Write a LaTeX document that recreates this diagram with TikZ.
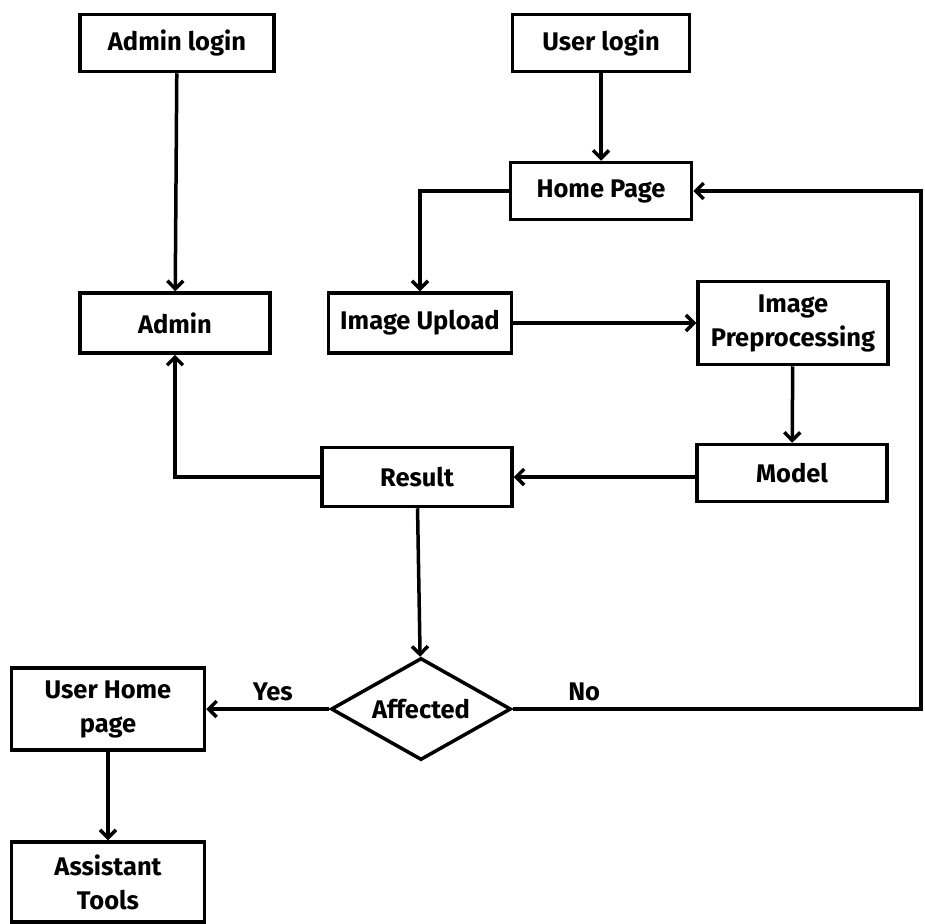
\documentclass[tikz,border=0pt]{standalone}
\usepackage{fontspec}
\setmainfont{Fira Sans}
\usetikzlibrary{shapes.geometric,arrows.meta}
\begin{document}
\begin{tikzpicture}[x=1pt,y=-1pt,
  every node/.style={font=\fontsize{25.5}{34}\selectfont\bfseries},
  box/.style={draw=black,line width=3.5pt,fill=white,align=center,inner sep=0pt},
  decision/.style={draw=black,line width=3.5pt,diamond,aspect=1.8,inner sep=0pt,minimum width=180pt,minimum height=102pt},
  flow/.style={line width=3.5pt,-{Straight Barb[length=8pt,width=16pt,line width=3.5pt]}},
  lbl/.style={font=\fontsize{25.5}{34}\selectfont\bfseries}]
\useasboundingbox (0,0) rectangle (924,924);
% upper row
\node[box,minimum width=194pt,minimum height=57pt] (adminlogin) at (177,43) {Admin login};
\node[box,minimum width=177pt,minimum height=57pt] (userlogin) at (601,43) {User login};
\node[box,minimum width=181pt,minimum height=57pt] (home) at (601,191) {Home Page};
% middle row
\node[box,minimum width=190pt,minimum height=60pt] (admin) at (175,323) {Admin};
\node[box,minimum width=183pt,minimum height=60pt] (upload) at (420,323) {Image Upload};
\node[box,minimum width=190pt,minimum height=83pt] (prep) at (793,323) {Image\\Preprocessing};
\node[box,minimum width=190pt,minimum height=57pt] (model) at (792,473) {Model};
\node[box,minimum width=190pt,minimum height=59pt] (result) at (417,477) {Result};
% decision and user branch
\node[decision] (affected) at (421,709) {Affected};
\node[box,minimum width=193pt,minimum height=82pt] (userhome) at (108,709) {User Home\\page};
\node[box,minimum width=193pt,minimum height=80pt] (tools) at (108,882) {Assistant\\Tools};
\coordinate (rightturn) at (921,709);
% connectors
\draw[flow] (adminlogin) -- (admin);
\draw[flow] (userlogin) -- (home);
\draw[flow] (home.west) -| (upload.north);
\draw[flow] (upload) -- (prep);
\draw[flow] (prep) -- (model);
\draw[flow] (result.east -| model.west) -- (result.east);
\draw[flow] (result.west) -| (admin.south);
\draw[flow] (result) -- (affected);
\draw[flow] (affected.west) -- node[lbl,above=3pt,xshift=5pt]{Yes} (userhome.east);
\draw[flow] (affected.east) -- node[lbl,above=3pt,pos=0.175]{No} (rightturn) |- (home.east);
\draw[flow] (userhome) -- (tools);
\end{tikzpicture}
\end{document}
